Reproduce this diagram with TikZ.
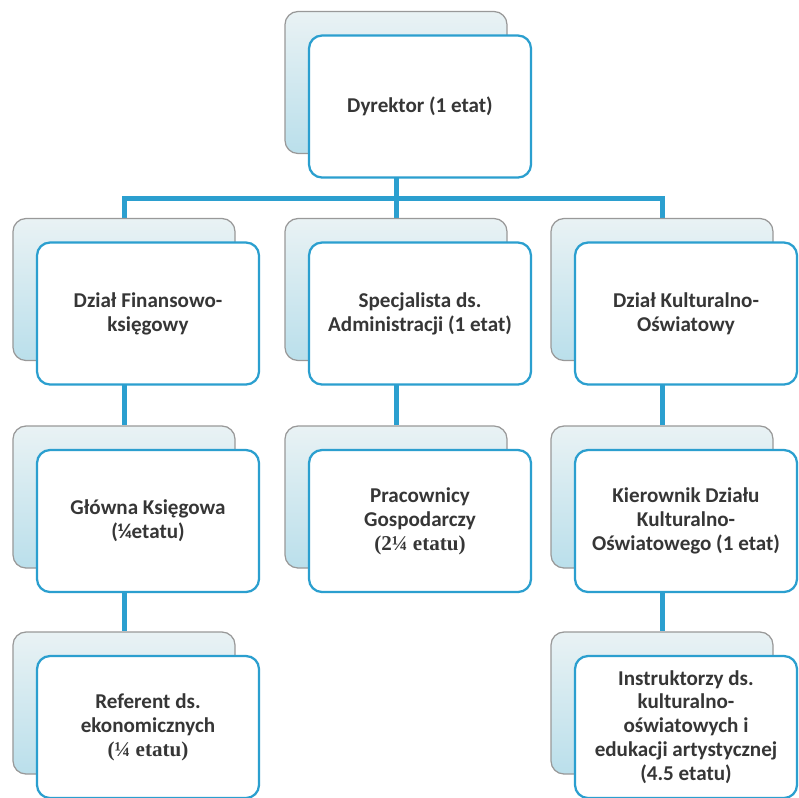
\documentclass[tikz,border=0pt]{standalone}
\usepackage{fontspec}
\setmainfont{Carlito}
\newfontfamily\serifpart{Liberation Serif}
\usepackage{xcolor}
\usetikzlibrary{positioning,backgrounds}
\definecolor{cardblue}{HTML}{2B9FCF}
\definecolor{cardtext}{HTML}{363636}
\definecolor{shadetop}{HTML}{E9F2F4}
\definecolor{shadebot}{HTML}{BADFEB}
\begin{document}
\begin{tikzpicture}[
  x=0.2mm, y=-0.2mm,
  every node/.style={font=\fontsize{12}{13.6}\selectfont\bfseries, text=cardtext},
  card/.style={
    rounded corners=2.6mm, minimum width=44.4mm, minimum height=28.4mm,
    align=center, inner sep=0pt
  },
  backcard/.style={card, draw=black!40, line width=0.25mm,
    top color=shadetop, bottom color=shadebot},
  frontcard/.style={card, draw=cardblue, line width=0.45mm, fill=white},
  conn/.style={draw=cardblue, line width=1mm}
]
  \useasboundingbox (0,0) rectangle (799,797);

  % Director
  \node[backcard] (dyrb) at (396,82.5) {};
  \node[frontcard] (dyr) at ([shift={(24,24)}]dyrb.center) {Dyrektor (1 etat)};

  % Second level
  \node[backcard] (finb) at (124,289.5) {};
  \node[frontcard] (fin) at ([shift={(24,24)}]finb.center) {Dział Finansowo-\\księgowy};
  \node[backcard] (admb) at (396,289.5) {};
  \node[frontcard] (adm) at ([shift={(24,24)}]admb.center) {Specjalista ds.\\Administracji (1 etat)};
  \node[backcard] (kulb) at (662,289.5) {};
  \node[frontcard] (kul) at ([shift={(24,24)}]kulb.center) {Dział Kulturalno-\\Oświatowy};

  % Third level
  \node[backcard] (ksgb) at (124,497) {};
  \node[frontcard] (ksg) at ([shift={(24,24)}]ksgb.center) {Główna Księgowa\\(¼etatu)};
  \node[backcard] (pracb) at (396,497) {};
  \node[frontcard] (prac) at ([shift={(24,24)}]pracb.center) {Pracownicy\\Gospodarczy\\{\serifpart(2¼ etatu)}};
  \node[backcard] (kierb) at (662,497) {};
  \node[frontcard] (kier) at ([shift={(24,24)}]kierb.center) {Kierownik Działu\\Kulturalno-\\Oświatowego (1 etat)};

  % Fourth level
  \node[backcard] (refb) at (124,703) {};
  \node[frontcard] (ref) at ([shift={(24,24)}]refb.center) {Referent ds.\\ekonomicznych\\{\serifpart(¼ etatu)}};
  \node[backcard] (instrb) at (662,703) {};
  \node[frontcard] (instr) at ([shift={(24,24)}]instrb.center) {Instruktorzy ds.\\kulturalno-\\oświatowych i\\edukacji artystycznej\\(4.5 etatu)};

  % Connectors
  \begin{scope}[on background layer]
    \fill[white] (0,0) rectangle (799,797);
    \coordinate (bus) at (396,198);
    \draw[conn] (dyrb.south) -- (bus);
    \draw[conn] (finb.north) |- (bus) -| (kulb.north);
    \draw[conn] (bus) -- (admb.north);
    \draw[conn] (finb.south) -- (ksgb.north);
    \draw[conn] (admb.south) -- (pracb.north);
    \draw[conn] (kulb.south) -- (kierb.north);
    \draw[conn] (ksgb.south) -- (refb.north);
    \draw[conn] (kierb.south) -- (instrb.north);
  \end{scope}
\end{tikzpicture}
\end{document}
